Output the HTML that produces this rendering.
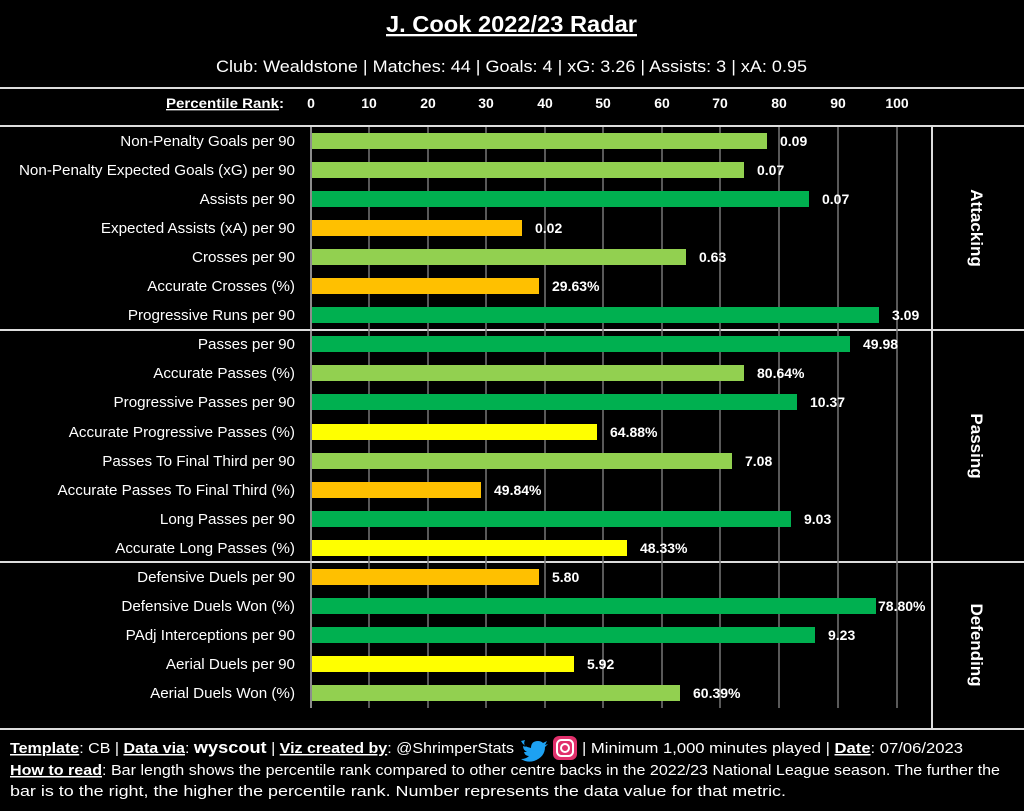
<!DOCTYPE html>
<html><head><meta charset="utf-8"><style>
body{margin:0;background:#000;}
svg{display:block;font-family:"Liberation Sans",sans-serif;}
</style></head><body>
<svg width="1024" height="811" xmlns="http://www.w3.org/2000/svg">
<rect width="1024" height="811" fill="#000"/>
<text x="386" y="32" fill="#fff" font-size="23" font-weight="bold" text-decoration="underline" textLength="251" lengthAdjust="spacingAndGlyphs">J. Cook 2022/23 Radar</text>
<text x="216" y="72" fill="#fff" font-size="16.5" textLength="591" lengthAdjust="spacingAndGlyphs">Club: Wealdstone | Matches: 44 | Goals: 4 | xG: 3.26 | Assists: 3 | xA: 0.95</text>
<g stroke="#ddd" stroke-width="2">
<line x1="0" y1="88" x2="1024" y2="88"/>
<line x1="0" y1="126" x2="1024" y2="126"/>
<line x1="0" y1="330" x2="1024" y2="330"/>
<line x1="0" y1="562" x2="1024" y2="562"/>
<line x1="0" y1="729" x2="1024" y2="729"/>
<line x1="932" y1="126" x2="932" y2="729"/>
</g>
<text x="166" y="108" fill="#fff" font-size="13.5" font-weight="bold" textLength="118" lengthAdjust="spacingAndGlyphs"><tspan text-decoration="underline">Percentile Rank</tspan>:</text>
<g fill="#fff" font-size="14" font-weight="bold" text-anchor="middle">
<text x="311" y="108">0</text><text x="369" y="108">10</text><text x="428" y="108">20</text><text x="486" y="108">30</text><text x="545" y="108">40</text><text x="603" y="108">50</text><text x="662" y="108">60</text><text x="720" y="108">70</text><text x="779" y="108">80</text><text x="838" y="108">90</text><text x="897" y="108">100</text>
</g>
<g stroke="#777" stroke-width="1.5">
<line x1="369" y1="127" x2="369" y2="708"/><line x1="428" y1="127" x2="428" y2="708"/><line x1="486" y1="127" x2="486" y2="708"/><line x1="545" y1="127" x2="545" y2="708"/><line x1="603" y1="127" x2="603" y2="708"/><line x1="662" y1="127" x2="662" y2="708"/><line x1="720" y1="127" x2="720" y2="708"/><line x1="779" y1="127" x2="779" y2="708"/><line x1="838" y1="127" x2="838" y2="708"/><line x1="897" y1="127" x2="897" y2="708"/>
</g>
<line x1="311" y1="127" x2="311" y2="708" stroke="#bbb" stroke-width="1.5"/>
<g>
<rect x="312" y="133" width="455" height="16" fill="#92d050"/>
<rect x="312" y="162" width="432" height="16" fill="#92d050"/>
<rect x="312" y="191" width="497" height="16" fill="#00b050"/>
<rect x="312" y="220" width="210" height="16" fill="#ffc000"/>
<rect x="312" y="249" width="374" height="16" fill="#92d050"/>
<rect x="312" y="278" width="227" height="16" fill="#ffc000"/>
<rect x="312" y="307" width="567" height="16" fill="#00b050"/>
<rect x="312" y="336" width="538" height="16" fill="#00b050"/>
<rect x="312" y="365" width="432" height="16" fill="#92d050"/>
<rect x="312" y="394" width="485" height="16" fill="#00b050"/>
<rect x="312" y="424" width="285" height="16" fill="#ffff00"/>
<rect x="312" y="453" width="420" height="16" fill="#92d050"/>
<rect x="312" y="482" width="169" height="16" fill="#ffc000"/>
<rect x="312" y="511" width="479" height="16" fill="#00b050"/>
<rect x="312" y="540" width="315" height="16" fill="#ffff00"/>
<rect x="312" y="569" width="227" height="16" fill="#ffc000"/>
<rect x="312" y="598" width="564" height="16" fill="#00b050"/>
<rect x="312" y="627" width="503" height="16" fill="#00b050"/>
<rect x="312" y="656" width="262" height="16" fill="#ffff00"/>
<rect x="312" y="685" width="368" height="16" fill="#92d050"/>
</g>
<g fill="#fff" font-size="15.2" text-anchor="end">
<text x="295" y="146">Non-Penalty Goals per 90</text>
<text x="295" y="175">Non-Penalty Expected Goals (xG) per 90</text>
<text x="295" y="204">Assists per 90</text>
<text x="295" y="233">Expected Assists (xA) per 90</text>
<text x="295" y="262">Crosses per 90</text>
<text x="295" y="291">Accurate Crosses (%)</text>
<text x="295" y="320">Progressive Runs per 90</text>
<text x="295" y="349">Passes per 90</text>
<text x="295" y="378">Accurate Passes (%)</text>
<text x="295" y="407">Progressive Passes per 90</text>
<text x="295" y="437">Accurate Progressive Passes (%)</text>
<text x="295" y="466">Passes To Final Third per 90</text>
<text x="295" y="495">Accurate Passes To Final Third (%)</text>
<text x="295" y="524">Long Passes per 90</text>
<text x="295" y="553">Accurate Long Passes (%)</text>
<text x="295" y="582">Defensive Duels per 90</text>
<text x="295" y="611">Defensive Duels Won (%)</text>
<text x="295" y="640">PAdj Interceptions per 90</text>
<text x="295" y="669">Aerial Duels per 90</text>
<text x="295" y="698">Aerial Duels Won (%)</text>
</g>
<g fill="#fff" font-size="14" font-weight="bold">
<text x="780" y="146">0.09</text>
<text x="757" y="175">0.07</text>
<text x="822" y="204">0.07</text>
<text x="535" y="233">0.02</text>
<text x="699" y="262">0.63</text>
<text x="552" y="291">29.63%</text>
<text x="892" y="320">3.09</text>
<text x="863" y="349">49.98</text>
<text x="757" y="378">80.64%</text>
<text x="810" y="407">10.37</text>
<text x="610" y="437">64.88%</text>
<text x="745" y="466">7.08</text>
<text x="494" y="495">49.84%</text>
<text x="804" y="524">9.03</text>
<text x="640" y="553">48.33%</text>
<text x="552" y="582">5.80</text>
<text x="878" y="611">78.80%</text>
<text x="828" y="640">9.23</text>
<text x="587" y="669">5.92</text>
<text x="693" y="698">60.39%</text>
</g>
<g fill="#fff" font-size="17" text-anchor="middle" font-weight="bold">
<text transform="translate(971,228) rotate(90)">Attacking</text>
<text transform="translate(971,446) rotate(90)">Passing</text>
<text transform="translate(971,645) rotate(90)">Defending</text>
</g>
<g fill="#fff" font-size="15">
<text x="10" y="753" textLength="504" lengthAdjust="spacingAndGlyphs"><tspan font-weight="bold" text-decoration="underline">Template</tspan>: CB | <tspan font-weight="bold" text-decoration="underline">Data via</tspan>: <tspan font-weight="bold" font-size="17">wyscout</tspan> | <tspan font-weight="bold" text-decoration="underline">Viz created by</tspan>: @ShrimperStats</text>
<text x="582" y="753" textLength="381" lengthAdjust="spacingAndGlyphs">| Minimum 1,000 minutes played | <tspan font-weight="bold" text-decoration="underline">Date</tspan>: 07/06/2023</text>
<text x="10" y="775" textLength="990" lengthAdjust="spacingAndGlyphs"><tspan font-weight="bold" text-decoration="underline">How to read</tspan>: Bar length shows the percentile rank compared to other centre backs in the 2022/23 National League season. The further the</text>
<text x="10" y="796" textLength="776" lengthAdjust="spacingAndGlyphs">bar is to the right, the higher the percentile rank. Number represents the data value for that metric.</text>
</g>
<path d="M521 741 q3 6 10 7 q0-7 7-7 q3 0 5 2 l4-2 l-2 4 l3-1 l-3 3 q0 10-11 14 q-7 2-13-2 q5 0 8-3 q-4 0-5-4 l3 0 q-4-2-4-6 l3 1 q-3-3-1-7z" fill="#1da1f2"/>
<rect x="553" y="736" width="24" height="24" rx="6" fill="#e1306c"/>
<rect x="557" y="740" width="16" height="16" rx="4.5" fill="none" stroke="#fff" stroke-width="2"/>
<circle cx="565" cy="748" r="4" fill="none" stroke="#fff" stroke-width="2"/>
</svg>
</body></html>
